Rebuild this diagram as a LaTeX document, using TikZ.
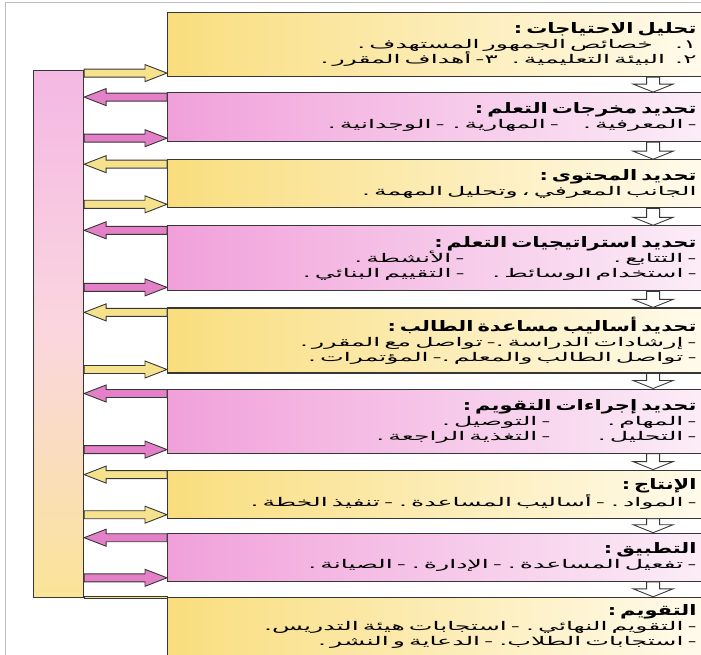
\documentclass[tikz,border=0pt]{standalone}
\usepackage{fontspec}
\newfontfamily\arabicfont[Script=Arabic, FakeStretch=2.1]{DejaVu Sans}
\newfontfamily\arabictitle[Script=Arabic, FakeStretch=1.45]{DejaVu Sans}
\TeXXeTstate=1
\usetikzlibrary{positioning, calc}

\definecolor{boxyellow}{RGB}{249,221,125}
\definecolor{boxyellowlight}{RGB}{255,251,236}
\definecolor{boxpink}{RGB}{241,160,218}
\definecolor{boxpinklight}{RGB}{251,237,247}
\definecolor{arryellow}{RGB}{246,226,140}
\definecolor{arrpink}{RGB}{228,128,200}
\definecolor{linegray}{RGB}{55,55,55}

\protected\def\widespaces{\spaceskip=11pt plus 1pt\relax}
\newcommand{\stagefont}{\arabicfont\fontsize{12}{15}\selectfont\widespaces}
\newcommand{\ttl}[1]{{\arabictitle\fontsize{14.5}{15}\selectfont\bfseries\beginR #1\endR}}

\begin{document}
\begin{tikzpicture}[x=1pt, y=-1pt,
    stage/.style={
        draw=linegray, line width=1.1pt,
        minimum width=536pt, text width=522pt,
        inner xsep=7pt, inner ysep=0pt,
        align=right, font=\stagefont
    },
    ystage/.style={stage, left color=boxyellow, right color=boxyellowlight},
    pstage/.style={stage, left color=boxpink, right color=boxpinklight},
    blockarrow/.style n args={3}{to path={
        ($(\tikztostart)!#1!90:(\tikztotarget)$)
        -- ($(\tikztotarget)!#3!(\tikztostart)!#1!-90:(\tikztostart)$)
        -- ($(\tikztotarget)!#3!(\tikztostart)!#2!-90:(\tikztostart)$)
        -- (\tikztotarget)
        -- ($(\tikztotarget)!#3!(\tikztostart)!#2!90:(\tikztostart)$)
        -- ($(\tikztotarget)!#3!(\tikztostart)!#1!90:(\tikztostart)$)
        -- ($(\tikztostart)!#1!-90:(\tikztotarget)$)
        -- cycle}},
    harr/.style={draw=linegray, line width=0.9pt, blockarrow={4pt}{8.5pt}{22pt}},
    ya/.style={harr, fill=arryellow},
    pa/.style={harr, fill=arrpink},
    darr/.style={draw=linegray, line width=0.9pt, fill=white, blockarrow={6.5pt}{20pt}{8pt}}
]
\useasboundingbox (0,0) rectangle (701,655);
\draw[gray!50, line width=1pt] (5,655) -- (5,3) -- (701,3);

% stages
\node[ystage, minimum height=64pt, anchor=north west] (b1) at (167,12) {%
    \ttl{تحليل الاحتياجات :}\\
    \beginR ١\kern0pt.\hspace{16pt} خصائص الجمهور المستهدف .\endR\\
    \beginR ٢\kern0pt.\hspace{4pt} البيئة التعليمية .\hspace{14pt}٣\kern0pt- أهداف المقرر .\endR};
\node[pstage, minimum height=49pt, below=15pt of b1] (b2) {%
    \ttl{تحديد مخرجات التعلم :}\\
    \beginR - المعرفية .\hspace{24pt}- المهارية .\hspace{8pt}- الوجدانية .\endR};
\node[ystage, minimum height=48pt, below=17pt of b2] (b3) {%
    \ttl{تحديد المحتوى :}\\
    \beginR الجانب المعرفي ، وتحليل المهمة .\endR};
\node[pstage, minimum height=65pt, below=17pt of b3] (b4) {%
    \ttl{تحديد استراتيجيات التعلم :}\\
    \beginR - الأنشطة .\endR\makebox[232pt][r]{\beginR - التتابع .\endR}\\
    \beginR - التقييم البنائي .\endR\makebox[232pt][r]{\beginR - استخدام الوسائط .\endR}};
\node[ystage, minimum height=65pt, below=16pt of b4] (b5) {%
    \ttl{تحديد أساليب مساعدة الطالب :}\\
    \beginR - إرشادات الدراسة .\kern0pt- تواصل مع المقرر .\endR\\
    \beginR - تواصل الطالب والمعلم .\kern0pt- المؤتمرات .\endR};
\node[pstage, minimum height=64pt, below=15pt of b5] (b6) {%
    \ttl{تحديد إجراءات التقويم :}\\
    \beginR - التوصيل .\endR\makebox[146pt][r]{\beginR - المهام .\endR}\\
    \beginR - التغذية الراجعة .\endR\makebox[146pt][r]{\beginR - التحليل .\endR}};
\node[ystage, minimum height=48pt, below=16pt of b6] (b7) {%
    \ttl{الإنتاج :}\\
    \beginR - المواد . - أساليب المساعدة . - تنفيذ الخطة .\endR};
\node[pstage, minimum height=48pt, below=14pt of b7] (b8) {%
    \ttl{التطبيق :}\\
    \beginR - تفعيل المساعدة . - الإدارة . - الصيانة .\endR};
\node[ystage, minimum height=59pt, below=15pt of b8] (b9) {%
    \ttl{التقويم :}\\
    \beginR - التقويم النهائي . - استجابات هيئة التدريس.\endR\\
    \beginR - استجابات الطلاب. - الدعاية و النشر .\endR};

% feedback bar
\node[draw=linegray, line width=1.1pt, minimum width=50pt, minimum height=527pt,
    anchor=north west, top color=boxpink!75!white, bottom color=boxyellow!80!white,
    middle color=orange!20!boxpink!40!white] (bar) at (33,70) {};
\draw[draw=linegray, line width=0.9pt, fill=arryellow]
    (bar.east |- b9.north) rectangle (b9.west |- bar.south);

% arrows to and from the bar
\foreach \i/\s in {1/ya,2/pa,3/ya,4/pa,5/ya,6/pa,7/ya,8/pa}
    \draw[\s] ($(bar.east |- b\i.south)+(0,4pt)$) to ($(b\i.south west)+(0,4pt)$);
\foreach \i/\s in {2/pa,3/ya,4/pa,5/ya,6/pa,7/ya,8/pa}
    \draw[\s] ($(b\i.north west)+(0,-5pt)$) to ($(bar.east |- b\i.north)+(0,-5pt)$);

% flow downwards
\foreach \i [evaluate=\i as \j using int(\i+1)] in {1,...,8}
    \draw[darr] ($(b\i.south east)+(-51pt,0)$) to ($(b\j.north east)+(-51pt,0)$);

\end{tikzpicture}
\end{document}
